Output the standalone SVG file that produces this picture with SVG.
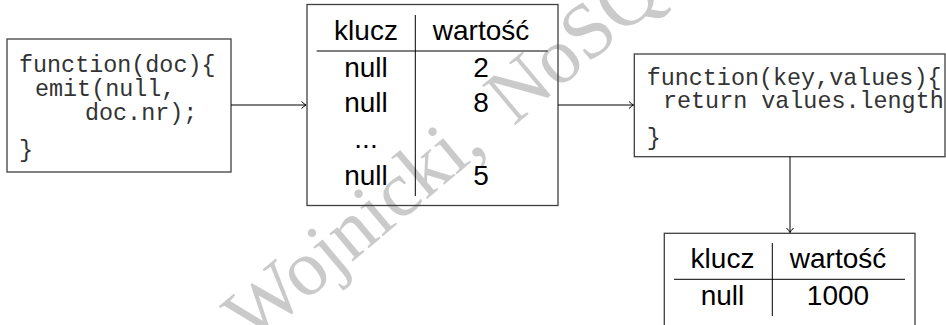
<svg xmlns="http://www.w3.org/2000/svg" width="946" height="325" viewBox="0 0 946 325">
<defs>
<marker id="arr" markerWidth="10" markerHeight="10" refX="7" refY="5" orient="auto" markerUnits="userSpaceOnUse">
<path d="M2.5,1.5 Q5,4 7,5 Q5,6 2.5,8.5" fill="none" stroke="#000" stroke-width="1"/>
</marker>
</defs>
<style>
.box{fill:none;stroke:#404040;stroke-width:1.3}
.code{font-family:"Liberation Mono","Courier New",monospace;font-size:23.4px;fill:#333;white-space:pre}
.tbl{font-family:"Liberation Sans",Arial,sans-serif;font-size:28px;fill:#000;text-anchor:middle}
.rule{stroke:#000;stroke-width:1}
.wm{font-family:"Liberation Serif","Times New Roman",serif;font-size:79px;fill:#cacaca}
.conn{stroke:#000;stroke-width:1;fill:none;marker-end:url(#arr)}
</style>
<rect width="946" height="325" fill="#fff"/>
<text class="wm" transform="translate(252,346) rotate(-40)">Wojnicki,<tspan dx="34">NoSQL</tspan></text>
<g id="map">
<rect class="box" x="7" y="39" width="224" height="133"/>
<text class="code" x="19" y="72">function(doc){</text>
<text class="code" x="35" y="96">emit(null,</text>
<text class="code" x="85" y="120">doc.nr);</text>
<text class="code" x="19" y="157">}</text>
</g>
<g id="intermediate">
<rect class="box" x="307" y="4.5" width="251" height="201"/>
<line class="rule" x1="415.3" y1="15" x2="415.3" y2="196"/>
<line class="rule" x1="316.7" y1="51" x2="547.7" y2="51"/>
<text class="tbl" x="366" y="40">klucz</text>
<text class="tbl" x="481" y="40">wartość</text>
<text class="tbl" x="366" y="77">null</text>
<text class="tbl" x="481" y="77">2</text>
<text class="tbl" x="366" y="112">null</text>
<text class="tbl" x="481" y="112">8</text>
<text class="tbl" x="366" y="148">...</text>
<text class="tbl" x="366" y="185">null</text>
<text class="tbl" x="481" y="185">5</text>
</g>
<g id="reduce">
<rect class="box" x="634.3" y="54" width="310.7" height="102.7"/>
<text class="code" x="646.7" y="85">function(key,values){</text>
<text class="code" x="663" y="108">return values.length</text>
<text class="code" x="646.7" y="145">}</text>
</g>
<g id="result">
<rect class="box" x="664.3" y="233.3" width="250.7" height="110"/>
<line class="rule" x1="772.3" y1="243" x2="772.3" y2="316"/>
<line class="rule" x1="674" y1="279.3" x2="905" y2="279.3"/>
<text class="tbl" x="722.5" y="268">klucz</text>
<text class="tbl" x="838" y="268">wartość</text>
<text class="tbl" x="722.5" y="305">null</text>
<text class="tbl" x="838" y="305">1000</text>
</g>
<g id="connectors">
<path class="conn" d="M231,105 H306"/>
<path class="conn" d="M558,105 H633.5"/>
<path class="conn" d="M790,156.7 V232.5"/>
</g>
</svg>
